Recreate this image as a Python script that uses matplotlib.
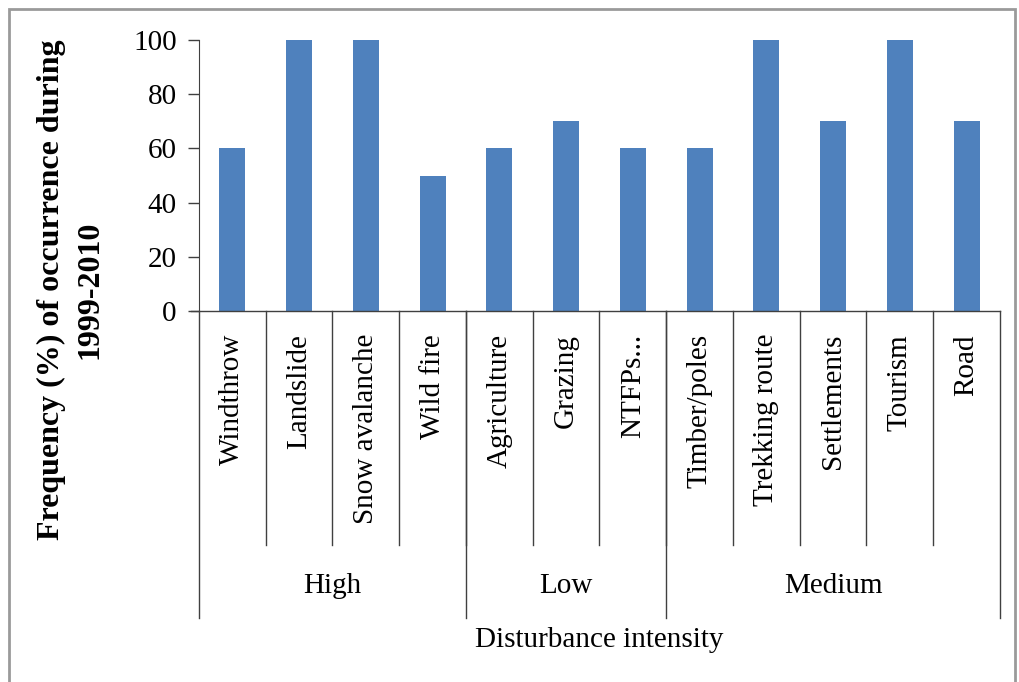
import matplotlib.pyplot as plt
from matplotlib.patches import Rectangle

plt.rcParams['font.family'] = ['Liberation Serif', 'DejaVu Serif']

categories = ['Windthrow', 'Landslide', 'Snow avalanche', 'Wild fire',
              'Agriculture', 'Grazing', 'NTFPs...',
              'Timber/poles', 'Trekking route', 'Settlements', 'Tourism', 'Road']
values = [60, 100, 100, 50, 60, 70, 60, 60, 100, 70, 100, 70]
groups = ['High', 'Low', 'Medium']
group_sizes = [4, 3, 5]

line_col = '#404040'
fs = 21

fig = plt.figure(figsize=(10.2, 6.82), dpi=100)
fig.patches.append(Rectangle((9 / 1020, -0.01), 1006 / 1020, 1 - 9 / 682 + 0.01,
                             transform=fig.transFigure, fill=False,
                             edgecolor='#9a9a9a', linewidth=2))
ax = fig.add_axes([199 / 1020, 1 - 311 / 682, 801 / 1020, 271 / 682])

x = list(range(len(categories)))
ax.bar(x, values, width=0.39, color='#4F81BD')
ax.set_xlim(-0.5, len(categories) - 0.5)
ax.set_ylim(0, 100)
ax.set_yticks([0, 20, 40, 60, 80, 100])
ax.tick_params(axis='y', direction='out', length=8, width=1, color=line_col,
               labelsize=fs, pad=8)
ax.set_xticks([])
for s in ['top', 'right']:
    ax.spines[s].set_visible(False)
ax.spines['left'].set_color(line_col)
ax.spines['bottom'].set_visible(False)

trans = ax.get_xaxis_transform()
# baseline extended to the left
ax.plot([-0.5 - 8 / 66.75, len(categories) - 0.5], [0, 0], transform=trans,
        color=line_col, lw=1, clip_on=False)

# category separators and labels
for i, c in enumerate(categories):
    ax.text(i, -23 / 271, c, rotation=90, ha='center', va='top', fontsize=fs,
            transform=trans)
for i in range(1, len(categories)):
    ax.plot([i - 0.5, i - 0.5], [0, -234 / 271], transform=trans,
            color=line_col, lw=1, clip_on=False)

# group separators and labels
start = 0
edges = [0]
for g, n in zip(groups, group_sizes):
    ax.text(start + n / 2 - 0.5, -275 / 271, g, ha='center', va='center',
            fontsize=fs, transform=trans)
    start += n
    edges.append(start)
for e in edges:
    ax.plot([e - 0.5, e - 0.5], [0, -307 / 271], transform=trans,
            color=line_col, lw=1, clip_on=False)

ax.text((len(categories) - 1) / 2, -329 / 271, 'Disturbance intensity',
        ha='center', va='center', fontsize=fs, transform=trans)

fig.text(71 / 1020, 1 - 290 / 682,
         'Frequency (%) of occurrence during\n1999-2010',
         rotation=90, ha='center', va='center', fontsize=23,
         fontweight='bold', multialignment='center', linespacing=1.45)

fig.savefig('out.png', dpi=100)
